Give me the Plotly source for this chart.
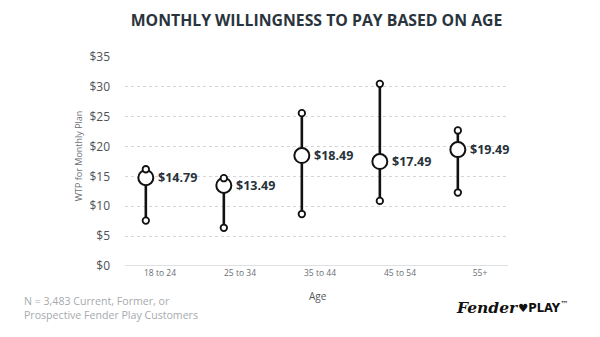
import plotly.graph_objects as go

# ---- data ----
age_groups = ["18 to 24", "25 to 34", "35 to 44", "45 to 54", "55+"]
mean_wtp = [14.79, 13.49, 18.49, 17.49, 19.49]
low_wtp = [7.6, 6.4, 8.7, 10.9, 12.3]
high_wtp = [16.2, 14.7, 25.6, 30.5, 22.7]
y_ticks = [0, 5, 10, 15, 20, 25, 30, 35]
y_ticktext = ["$" + str(v) for v in y_ticks]

INK = "#111111"
FONT = "Open Sans"

fig = go.Figure()

# range whiskers + mean circles
fig.add_trace(go.Scatter(
    x=age_groups, y=mean_wtp, mode="markers",
    marker=dict(size=15, color="white", line=dict(color=INK, width=2)),
    error_y=dict(type="data", symmetric=False,
                 array=[h - m for h, m in zip(high_wtp, mean_wtp)],
                 arrayminus=[m - l for m, l in zip(mean_wtp, low_wtp)],
                 color=INK, thickness=2.6, width=0),
    cliponaxis=False, hoverinfo="skip", showlegend=False))

# end caps
fig.add_trace(go.Scatter(
    x=age_groups + age_groups, y=low_wtp + high_wtp, mode="markers",
    marker=dict(size=6.5, color="white", line=dict(color=INK, width=1.8)),
    cliponaxis=False, hoverinfo="skip", showlegend=False))

# invisible trace for label axis
fig.add_trace(go.Scatter(x=age_groups, y=mean_wtp, xaxis="x2", mode="markers",
                         marker=dict(opacity=0), hoverinfo="skip", showlegend=False))

annotations = []
for g, m in zip(age_groups, mean_wtp):
    annotations.append(dict(x=g, y=m, xref="x", yref="y", text="<b>$%.2f</b>" % m,
                            showarrow=False, xanchor="left", yanchor="middle", xshift=10,
                            font=dict(family=FONT, size=12.5, color="#27323b")))

annotations += [
    dict(text="WTP for Monthly Plan", textangle=-90, xref="paper", yref="paper",
         x=-0.145, y=0.53, showarrow=False, font=dict(family=FONT, size=9, color="#6b7075")),
    dict(text="Age", xref="paper", yref="paper", x=0.505, y=-0.145, showarrow=False,
         yanchor="middle", font=dict(family=FONT, size=10, color="#55595e")),
    dict(text="N = 3,483 Current, Former, or<br>Prospective Fender Play Customers",
         xref="paper", yref="paper", x=-0.268, y=-0.125, xanchor="left", yanchor="top",
         align="left", showarrow=False, font=dict(family=FONT, size=10.6, color="#a6aaae")),
    dict(text="<i><b>Fender</b></i>", xref="paper", yref="paper", x=0.86, y=-0.198,
         xanchor="left", yanchor="middle", showarrow=False,
         font=dict(family="DejaVu Serif", size=15.5, color=INK)),
    dict(text="<b>♥PLAY</b><sup>™</sup>", xref="paper", yref="paper", x=1.02, y=-0.198,
         xanchor="left", yanchor="middle", showarrow=False,
         font=dict(family="DejaVu Sans", size=11.5, color=INK)),
]

fig.update_layout(
    width=600, height=337,
    margin=dict(l=125, r=92, t=57, b=71),
    paper_bgcolor="white", plot_bgcolor="white",
    title=dict(text="<b>MONTHLY WILLINGNESS TO PAY BASED ON AGE</b>", x=0.5, xref="paper",
               y=0.94, yanchor="middle",
               font=dict(family=FONT, size=15.8, color="#2a343d")),
    xaxis=dict(type="category", categoryarray=age_groups, range=[-0.267, 4.643],
               showticklabels=False, showgrid=False, zeroline=False,
               showline=False, ticks=""),
    xaxis2=dict(type="category", categoryarray=age_groups, range=[-0.4375, 4.35],
                overlaying="x", side="bottom", anchor="y", showgrid=False, zeroline=False,
                showline=False, ticks="",
                tickfont=dict(family=FONT, size=8.5, color="#6b6f73")),
    yaxis=dict(range=[0, 35], tickvals=y_ticks, ticktext=y_ticktext,
               showgrid=True, gridcolor="#d3d6d9", griddash="dot", gridwidth=1,
               zeroline=False, showline=False, ticks="", ticklabelstandoff=14,
               tickfont=dict(family=FONT, size=12, color="#4d5257")),
    shapes=[dict(type="line", xref="paper", yref="y", x0=0, x1=1, y0=0, y1=0,
                 line=dict(color="#dde1e4", width=2))],
    annotations=annotations,
)

fig.write_html("out.html")
